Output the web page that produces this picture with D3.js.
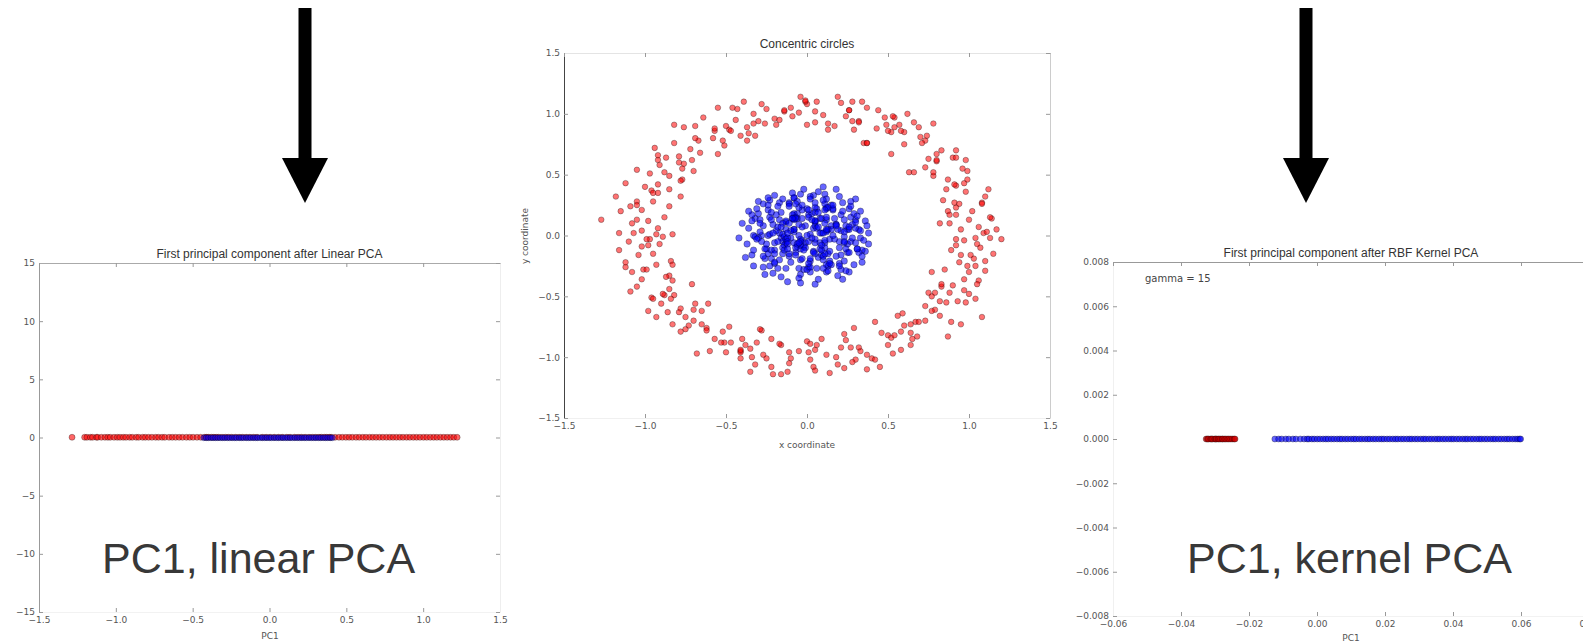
<!DOCTYPE html>
<html><head><meta charset="utf-8">
<script src="https://cdn.jsdelivr.net/npm/d3@7"></script>
<style>body{margin:0;background:#fff;overflow:hidden}svg{display:block}</style>
</head><body>
<svg id="chart" width="1583" height="643"></svg>
<script>
// ---------- DATA ----------
// Centre panel: "Concentric circles" (outer ring = red class, inner blob = blue class)
const circleRed = [
[1.05,-0.07],[0.88,0.10],[1.09,0.02],[0.97,-0.04],[1.14,0.14],[0.92,0.17],[1.00,0.13],[0.84,0.29],[1.06,0.07],
[1.08,0.27],[0.92,0.41],[0.87,0.20],[0.97,0.43],[1.10,0.32],[0.92,0.23],[0.99,0.46],[0.78,0.49],[0.91,0.27],
[0.99,0.53],[0.80,0.61],[0.91,0.42],[0.73,0.56],[0.92,0.70],[0.78,0.52],[0.83,0.70],[0.63,0.52],[0.90,0.64],
[0.70,0.81],[0.80,0.62],[0.60,0.85],
[0.69,0.89],[0.52,0.67],[0.73,0.78],[0.54,0.97],[0.71,0.76],[0.49,0.91],[0.52,0.85],[0.35,0.76],[0.57,0.91],
[0.53,0.98],[0.37,0.76],[0.32,0.94],[0.37,1.05],[0.50,0.86],[0.32,0.93],[0.34,1.10],[0.13,0.92],[0.26,1.03],
[0.29,0.87],[0.10,0.99],[0.21,1.09],[0.00,0.91],[0.19,1.14],[0.05,0.93],[0.06,1.10],[-0.14,1.02],[0.13,0.87],
[-0.10,1.05],[0.00,1.08],[-0.20,0.96],
[-0.01,1.10],[-0.19,0.91],[-0.09,0.98],[-0.39,1.10],[-0.26,0.92],[-0.14,1.03],[-0.41,0.82],[-0.30,0.94],[-0.43,1.04],
[-0.32,0.82],[-0.46,1.05],[-0.36,0.84],[-0.64,0.97],[-0.37,0.89],[-0.51,0.74],[-0.48,0.87],[-0.69,0.90],[-0.52,0.78],
[-0.76,0.89],[-0.55,0.67],[-0.67,0.78],[-0.57,0.86],[-0.79,0.65],[-0.69,0.80],[-0.92,0.62],[-0.70,0.53],[-0.66,0.68],
[-0.87,0.64],[-0.92,0.42],[-0.79,0.60],
[-0.96,0.37],[-0.77,0.55],[-0.91,0.58],[-0.85,0.38],[-1.05,0.54],[-0.78,0.32],[-0.95,0.35],[-0.85,0.49],[-1.05,0.28],
[-0.92,0.35],[-1.09,0.24],[-0.88,0.15],[-1.02,0.21],[-0.85,0.24],[-1.07,0.02],[-0.98,0.12],[-1.15,0.20],[-0.93,0.01],
[-0.89,-0.01],[-1.05,0.13],[-1.10,-0.05],[-0.97,-0.03],[-0.84,-0.21],[-1.02,-0.09],[-0.91,-0.07],[-1.12,-0.26],[-0.99,-0.03],
[-0.85,-0.33],[-1.04,-0.16],[-0.93,-0.24],
[-1.09,-0.46],[-0.87,-0.34],[-0.83,-0.24],[-0.96,-0.51],[-1.01,-0.28],[-0.88,-0.49],[-0.71,-0.40],[-0.89,-0.48],[-0.79,-0.63],
[-0.95,-0.52],[-0.82,-0.49],[-0.70,-0.61],[-0.84,-0.52],[-0.73,-0.74],[-0.86,-0.63],[-0.61,-0.56],[-0.75,-0.77],[-0.65,-0.62],
[-0.78,-0.79],[-0.51,-0.88],[-0.65,-0.73],[-0.48,-0.75],[-0.68,-0.97],[-0.52,-0.79],[-0.62,-0.76],[-0.41,-0.95],[-0.53,-0.88],
[-0.28,-0.78],[-0.50,-0.96],[-0.40,-0.85],
[-0.34,-1.00],[-0.22,-0.85],[-0.41,-0.96],[-0.22,-1.08],[-0.35,-0.93],[-0.16,-0.90],[-0.21,-1.14],[-0.11,-0.96],[-0.31,-0.88],
[0.04,-1.08],[-0.10,-1.01],[0.00,-0.87],[-0.11,-1.05],[0.05,-0.94],[-0.12,-1.12],[0.18,-1.00],[0.06,-0.90],[0.23,-1.09],
[0.09,-0.85],[0.19,-1.06],[0.02,-0.89],[0.33,-0.95],[0.37,-1.10],[0.21,-0.92],[0.24,-0.86],[0.37,-0.98],[0.50,-0.82],
[0.40,-1.01],[0.50,-0.90],[0.29,-0.76],
[0.64,-0.80],[0.42,-1.02],[0.52,-0.84],[0.42,-0.71],[0.64,-0.90],[0.68,-0.83],[0.59,-0.64],[0.54,-0.82],[0.67,-0.71],
[0.87,-0.83],[0.69,-0.71],[0.79,-0.61],[0.64,-0.73],[0.77,-0.50],[0.89,-0.71],[0.75,-0.47],[0.86,-0.55],[0.73,-0.70],
[0.97,-0.45],[0.83,-0.42],[0.93,-0.54],[0.77,-0.30],[1.04,-0.52],[0.90,-0.41],[1.03,-0.19],[0.83,-0.40],[0.99,-0.25],
[0.85,-0.28],[1.06,-0.37],[0.94,-0.22],[1.10,-0.21],[0.92,-0.08],[1.04,-0.25],[0.89,-0.12],[1.13,-0.02],[1.01,-0.16],
[1.11,0.03],[0.94,0.26],[0.88,0.17],[0.98,0.36],[1.08,0.26],[0.87,0.46],[0.92,0.64],[0.66,0.52],[0.74,0.82],
[0.80,0.67],[0.54,0.89],[0.58,0.86],[0.37,0.76],[0.48,0.97],[0.26,1.03],[0.28,0.94],[-0.01,1.11],[0.17,0.90],
[-0.05,1.01],[-0.04,1.14],[-0.33,0.92],[-0.25,1.04],[-0.50,0.90],[-0.37,0.78],[-0.57,0.88],[-0.47,0.86],[-0.76,0.59],
[-0.72,0.71],[-0.94,0.72],[-0.77,0.46],[-0.78,0.45],[-0.97,0.51],[-1.05,0.25],[-0.95,0.28],[-0.83,0.01],[-1.02,0.04],
[-0.92,0.06],[-1.12,-0.22],[-0.98,-0.08],[-0.83,-0.37],[-0.99,-0.28],[-0.85,-0.44],[-0.93,-0.67],[-0.69,-0.56],[-0.78,-0.60],
[-0.62,-0.78],[-0.75,-0.67],[-0.41,-0.94],[-0.47,-0.88],[-0.29,-0.77],[-0.41,-1.01],[-0.17,-0.89],[-0.25,-1.01],[0.05,-1.11],
[0.01,-0.96],[0.27,-0.92],[0.14,-1.13],[0.32,-0.92],[0.23,-0.81],[0.53,-0.97],[0.65,-0.85],[0.56,-0.66],[0.58,-0.79],
[0.77,-0.62],[0.95,-0.73],[0.82,-0.54],[0.97,-0.36],[0.79,-0.47],[0.95,-0.16],[1.10,-0.29],[0.92,-0.03],[1.04,-0.02],
[-1.27,0.13],[1.08,-0.67],[0.28,1.10],[-0.16,-1.14],[-0.82,0.91],[1.20,-0.03],[1.17,0.05],[1.15,-0.15],[-0.55,1.05],
[0.62,1.00],[0.78,0.92],[-0.92,0.66],[0.98,0.62],[1.12,0.38],[-1.16,-0.12],[-1.18,0.32],[-0.35,-1.12],[0.45,-1.08],
[0.98,-0.55],[1.05,-0.40],[-0.98,-0.62],[-1.05,-0.42],
[0.95,0.05],[1.02,0.20],[0.86,0.38],[0.75,0.63],[0.60,0.75],[0.43,0.88],[0.24,0.98],[0.05,1.02],[-0.17,0.95],
[-0.33,1.00],[-0.58,0.80],[-0.71,0.62],[-0.88,0.52],[-1.00,0.40],[-1.08,0.10],[-0.95,-0.15],[-1.02,-0.36],[-0.90,-0.56],
[-0.70,-0.70],[-0.57,-0.85],[-0.38,-0.90],[-0.27,-0.98],[-0.05,-0.95],[0.12,-0.98],[0.30,-1.02],[0.46,-0.80],[0.60,-0.74],
[0.73,-0.58],[0.88,-0.47],[1.00,-0.30],[1.07,-0.10],[0.82,0.10],[0.96,0.55],[0.66,0.93],[0.44,1.03],[-0.28,1.08],
[-0.44,0.95],[-0.82,0.76],[-1.12,0.43],[-1.16,0.02],[-1.08,-0.30],[-0.83,-0.73],[-0.60,-0.95],[-0.32,-1.06],[0.02,-1.02],
[0.28,-1.04],[0.58,-0.94],[0.82,-0.66],[1.00,-0.48],[1.13,0.15]
];
const circleBlue = [
[0.25,-0.07],[0.05,0.11],[0.36,-0.13],[0.11,-0.06],[0.34,-0.12],[0.20,-0.10],[0.31,-0.11],
[0.08,0.14],[0.27,-0.05],[0.18,0.09],[0.30,0.13],[0.12,0.04],[0.32,0.05],[0.15,0.08],
[0.28,0.09],[0.30,0.06],[0.27,0.15],[0.15,0.05],[0.21,0.17],[0.12,0.22],[0.09,0.14],
[0.14,-0.03],[0.12,0.23],[0.04,0.06],[0.23,-0.01],[0.02,0.01],[0.21,0.04],[0.20,-0.05],
[0.29,0.18],[0.05,0.08],[0.15,0.25],[0.01,0.17],[0.22,0.27],[0.06,0.22],[0.31,0.16],
[0.05,0.23],[0.16,0.21],[0.25,0.05],[0.26,0.22],[0.24,0.08],[0.23,0.13],[0.11,0.26],
[0.12,0.13],[0.26,0.05],[0.03,0.18],[0.09,0.02],[0.05,0.27],[0.06,0.06],[0.18,0.09],
[-0.08,0.31],[0.05,0.19],[0.11,0.34],[0.16,0.22],[-0.03,0.21],[0.13,0.23],[-0.06,0.18],
[0.11,0.10],[0.12,0.30],[-0.06,0.14],[-0.08,0.31],[0.07,0.07],[-0.11,0.27],[0.04,0.33],
[0.11,0.21],[-0.13,0.11],[0.10,0.29],[0.05,0.12],[0.16,0.25],[0.13,0.05],[0.12,0.15],
[-0.09,0.35],[-0.04,0.34],[-0.08,0.18],[-0.16,0.19],[-0.06,0.28],[-0.05,0.23],[-0.11,0.26],
[-0.17,0.13],[0.05,0.12],[-0.01,0.08],[0.02,0.32],[0.01,0.15],[0.02,0.30],[-0.03,0.07],
[-0.07,0.26],[-0.17,0.27],[-0.24,0.21],[-0.13,0.12],[-0.23,0.29],[-0.21,0.09],[-0.19,0.17],
[0.03,0.13],[-0.09,0.17],[0.00,0.22],[0.01,0.21],[-0.13,0.05],[-0.08,0.14],[-0.03,0.25],
[-0.17,0.02],[-0.24,0.00],[-0.16,-0.02],[-0.23,0.01],[-0.03,0.14],[-0.27,0.26],[-0.19,0.04],
[-0.09,0.14],[-0.07,0.15],[-0.08,0.13],[-0.15,0.10],[-0.24,0.25],[-0.08,0.05],[-0.11,0.24],
[-0.32,0.14],[-0.23,0.15],[-0.30,0.18],[-0.34,0.17],[-0.15,0.01],[-0.22,0.13],[-0.33,0.00],
[-0.20,-0.12],[-0.14,-0.01],[-0.15,-0.05],[-0.13,-0.06],[-0.29,0.13],[-0.06,-0.09],[-0.07,0.14],
[-0.08,0.03],[-0.34,0.12],[-0.32,-0.01],[-0.09,0.14],[-0.10,-0.02],[-0.28,0.00],[-0.21,0.02],
[-0.27,0.08],[-0.07,-0.14],[-0.11,0.10],[-0.25,-0.11],[-0.24,-0.15],[-0.18,0.07],[-0.11,-0.17],
[-0.15,-0.15],[-0.20,-0.06],[-0.22,-0.12],[-0.29,0.03],[-0.13,-0.03],[-0.34,-0.16],[-0.30,-0.02],
[-0.26,-0.11],[-0.08,0.05],[-0.03,-0.04],[-0.14,-0.08],[-0.31,-0.03],[-0.10,0.04],[-0.12,-0.02],
[-0.05,0.00],[-0.26,-0.19],[-0.23,-0.25],[0.01,-0.26],[-0.02,-0.28],[-0.04,-0.20],[-0.27,-0.17],
[-0.17,-0.20],[-0.08,-0.06],[-0.11,-0.15],[-0.15,-0.10],[-0.14,-0.12],[-0.18,-0.05],[-0.04,-0.03],
[-0.04,-0.11],[-0.22,-0.19],[-0.25,-0.07],[-0.02,-0.09],[-0.01,-0.06],[-0.20,-0.15],[-0.13,-0.27],
[-0.21,-0.31],[0.02,-0.30],[0.00,-0.28],[-0.20,-0.23],[-0.18,-0.27],[-0.04,-0.32],[0.07,-0.18],
[0.10,-0.20],[-0.07,-0.16],[0.08,-0.06],[-0.04,-0.08],[0.02,-0.21],[0.13,-0.15],[-0.12,-0.05],
[-0.01,-0.10],[0.14,-0.13],[-0.05,-0.27],[0.12,-0.30],[-0.12,-0.07],[-0.02,-0.12],[0.02,-0.26],
[0.13,-0.29],[-0.05,-0.35],[-0.07,-0.10],[-0.03,-0.19],[0.13,-0.25],[0.12,-0.24],[-0.12,-0.11],
[-0.04,-0.05],[0.09,-0.16],[0.10,-0.17],[0.11,-0.04],[0.04,-0.13],[-0.06,-0.07],[0.14,-0.21],
[0.15,-0.24],[-0.05,-0.06],[0.26,-0.30],[0.01,-0.23],[0.24,-0.29],[0.10,-0.27],[0.21,-0.28],
[0.01,-0.05],[0.20,-0.23],[0.11,-0.10],[0.23,-0.06],[0.05,-0.15],[0.25,-0.14],[0.08,-0.11],
[0.24,-0.11],[0.26,-0.14],[0.23,-0.05],[0.11,-0.15],[0.17,-0.03],[0.08,0.02],[0.05,-0.06],
[0.14,-0.23],[0.12,0.03],[0.04,-0.14],[0.23,-0.21],[0.02,-0.19],[0.21,-0.16],[0.20,-0.25],
[0.33,-0.02],[0.09,-0.12],[0.19,0.05],[0.05,-0.03],[0.26,0.07],[0.10,0.02],[0.35,-0.04],
[0.12,0.05],[0.23,0.03],[0.32,-0.14],[0.33,0.04],[0.31,-0.11],[0.30,-0.06],[0.18,0.08],
[-0.42,-0.02],[-0.40,0.10],[-0.38,-0.18],[0.38,0.02],[0.36,0.12],[0.30,0.30],[0.18,0.38],[0.10,0.40],[-0.20,0.33],
[-0.30,0.28],[0.05,-0.40],[-0.12,-0.38],[0.22,-0.36],[-0.33,-0.25],[0.34,-0.22],[-0.36,0.20],[0.27,0.24],[-0.26,-0.32],
[-0.36,0.06],[-0.37,-0.07],[-0.31,0.22],[-0.24,0.31],[-0.15,0.30],[-0.02,0.38],[0.07,0.36],[0.20,0.32],[0.27,0.28],
[0.33,0.20],[0.37,0.08],[0.38,-0.07],[0.34,-0.17],[0.29,-0.24],[0.19,-0.33],[0.07,-0.36],[-0.04,-0.39],[-0.16,-0.34],
[-0.27,-0.26],[-0.33,-0.12],[-0.28,-0.05],[-0.18,0.24],[0.22,0.20],[0.18,-0.17],[-0.12,0.02],[0.03,-0.02],[0.16,0.00],
[-0.05,0.09],[0.07,0.19],[-0.20,-0.22],[0.28,-0.02],[0.17,0.14],[-0.29,0.10],[-0.10,-0.22],[0.06,-0.27],[0.30,0.11],
[-0.16,0.07],[0.00,0.00],[0.09,-0.08],[-0.22,0.19]
];
// Left panel: PC1 after linear PCA (plotted on y = +0.02 / -0.02)
const linRed = [-1.285,-1.203,-1.188,-1.166,-1.151,-1.127,-1.118,-1.094,-1.071,-1.052,-1.036,-1.012,-0.991,-0.973,-0.952,
-0.934,-0.911,-0.893,-0.868,-0.851,-0.826,-0.808,-0.787,-0.765,-0.741,-0.722,-0.699,-0.681,-0.654,-0.633,-0.611,-0.588,
-0.566,-0.541,-0.519,-0.497,-0.472,-0.448,-0.421,-0.396,-0.362,-0.331,-0.287,-0.246,-0.198,-0.152,-0.104,-0.047,0.004,
0.058,0.112,0.163,0.208,0.257,0.301,0.338,0.372,0.401,0.427,0.452,0.474,0.497,0.518,0.539,0.563,0.584,0.607,0.628,0.651,
0.672,0.694,0.716,0.738,0.761,0.783,0.804,0.826,0.848,0.869,0.892,0.913,0.936,0.957,0.979,1.002,1.023,1.046,1.068,1.089,
1.112,1.134,1.156,1.178,1.199,1.221,
-0.409,-0.378,-0.347,-0.309,-0.268,-0.221,-0.176,-0.128,-0.081,-0.022,0.031,0.083,0.134,0.186,0.232,0.279,0.322,0.357,0.389];
const linBlue = [-0.428,-0.412,-0.398,-0.381,-0.367,-0.352,-0.336,-0.321,-0.305,-0.291,-0.274,-0.259,-0.243,-0.228,-0.214,
-0.197,-0.183,-0.168,-0.151,-0.137,-0.122,-0.106,-0.091,-0.077,-0.061,-0.046,-0.031,-0.016,-0.002,0.013,0.029,0.044,0.058,
0.074,0.089,0.103,0.119,0.134,0.149,0.165,0.18,0.196,0.211,0.226,0.241,0.257,0.272,0.288,0.302,0.318,0.333,0.349,0.364,
0.379,0.395,0.409];
const linYRed = 0.02, linYBlue = -0.02;
// Right panel: PC1 after RBF kernel PCA (gamma = 15), plotted on y = 0
const kpcaRed = [-0.0326,-0.0322,-0.0319,-0.0313,-0.0310,-0.0307,-0.0301,-0.0298,-0.0296,-0.0291,-0.0288,-0.0284,
-0.0279,-0.0277,-0.0272,-0.0268,-0.0263,-0.0259,-0.0254,-0.0249,-0.0244,-0.0241];
const kpcaBlue = [-0.0124,-0.0113,-0.0104,-0.0092,-0.0083,-0.0071,-0.0062,-0.0049,-0.0038,-0.0029,
-0.0024,-0.0015,-0.0008,0.0001,0.0009,0.0018,0.0026,0.0033,0.0042,0.0050,0.0059,0.0067,0.0074,0.0083,0.0091,0.0100,
0.0108,0.0115,0.0124,0.0132,0.0141,0.0149,0.0156,0.0165,0.0173,0.0182,0.0190,0.0197,0.0206,0.0214,0.0223,0.0231,
0.0238,0.0247,0.0255,0.0264,0.0272,0.0279,0.0288,0.0296,0.0305,0.0313,0.0320,0.0329,0.0337,0.0346,0.0354,0.0361,
0.0370,0.0378,0.0387,0.0395,0.0402,0.0411,0.0419,0.0428,0.0436,0.0443,0.0452,0.0460,0.0469,0.0477,0.0484,0.0493,
0.0501,0.0510,0.0518,0.0525,0.0534,0.0542,0.0551,0.0559,0.0566,0.0575,0.0583,0.0590,0.0596,0.0599];
const kpcaY = 0;
// Ticks
const linXTicks = [-1.5,-1.0,-0.5,0.0,0.5,1.0,1.5];
const linYTicks = [-15,-10,-5,0,5,10,15];
const circXTicks = [-1.5,-1.0,-0.5,0.0,0.5,1.0,1.5];
const circYTicks = [-1.5,-1.0,-0.5,0.0,0.5,1.0,1.5];
const kXTicks = [-0.06,-0.04,-0.02,0.00,0.02,0.04,0.06,0.08];
const kYTicks = [-0.008,-0.006,-0.004,-0.002,0.000,0.002,0.004,0.006,0.008];
// Texts
const titleLinear = "First principal component after Linear PCA";
const titleCircles = "Concentric circles";
const titleKernel = "First principal component after RBF Kernel PCA";
const gammaText = "gamma = 15";
const bigLinear = "PC1, linear PCA";
const bigKernel = "PC1, kernel PCA";

// ---------- DRAW ----------
const svg = d3.select("#chart");
const TICKFONT = "'DejaVu Sans', sans-serif";

function panel(o) {
  const g = svg.append("g");
  const x = d3.scaleLinear().domain(o.xDomain).range([o.left, o.right]);
  const y = d3.scaleLinear().domain(o.yDomain).range([o.bottom, o.top]);
  const styleAxis = (sel, col) => {
    sel.select(".domain").attr("stroke", col).attr("stroke-width", 1);
    sel.selectAll(".tick line").attr("stroke", "#999");
    sel.selectAll(".tick text").attr("fill", "#555").style("font-family", TICKFONT).style("font-size", "9px");
  };
  g.append("g").attr("transform", `translate(0,${o.bottom})`)
    .call(d3.axisBottom(x).tickValues(o.xTicks).tickFormat(d3.format(o.xFmt)).tickSizeInner(-4).tickSizeOuter(0).tickPadding(5))
    .call(s => styleAxis(s, o.cBottom));
  g.append("g").attr("transform", `translate(${o.left},0)`)
    .call(d3.axisLeft(y).tickValues(o.yTicks).tickFormat(d3.format(o.yFmt)).tickSizeInner(-4).tickSizeOuter(0).tickPadding(4))
    .call(s => styleAxis(s, o.cLeft));
  g.append("g").attr("transform", `translate(0,${o.top})`)
    .call(d3.axisTop(x).tickValues(o.xTicks).tickFormat("").tickSizeInner(-4).tickSizeOuter(0))
    .call(s => styleAxis(s, o.cTop));
  g.append("g").attr("transform", `translate(${o.right},0)`)
    .call(d3.axisRight(y).tickValues(o.yTicks).tickFormat("").tickSizeInner(-4).tickSizeOuter(0))
    .call(s => styleAxis(s, o.cRight));
  g.append("text").attr("x", (o.left + o.right) / 2).attr("y", o.top - 5)
    .attr("text-anchor", "middle").attr("fill", "#333")
    .style("font-family", "'Liberation Sans', Arial, sans-serif").style("font-size", "12px").text(o.title);
  return { g, x, y };
}

function dots(g, data, cx, cy, color, r, fo) {
  g.append("g").selectAll("circle").data(data).join("circle")
    .attr("cx", cx).attr("cy", cy).attr("r", r)
    .attr("fill", color).attr("fill-opacity", fo)
    .attr("stroke", "#000").attr("stroke-opacity", 0.5).attr("stroke-width", 0.6);
}

// Left panel
const L = panel({ xDomain: [-1.5, 1.5], yDomain: [-15, 15], left: 39, right: 500, top: 263, bottom: 612,
  xTicks: linXTicks, yTicks: linYTicks, xFmt: ".1f", yFmt: "d", title: titleLinear,
  cLeft: "#999", cTop: "#aaa", cRight: "#eee", cBottom: "#f2f2f2" });
dots(L.g, linRed, d => L.x(d), () => L.y(linYRed), "red", 3, 0.6);
dots(L.g, linBlue, d => L.x(d), () => L.y(linYBlue), "blue", 3, 0.5);
L.g.append("text").attr("x", 270).attr("y", 639).attr("text-anchor", "middle").attr("fill", "#555")
  .style("font-family", TICKFONT).style("font-size", "9px").text("PC1");

// Centre panel
const C = panel({ xDomain: [-1.5, 1.5], yDomain: [-1.5, 1.5], left: 564, right: 1050, top: 53, bottom: 418,
  xTicks: circXTicks, yTicks: circYTicks, xFmt: ".1f", yFmt: ".1f", title: titleCircles,
  cLeft: "#444", cTop: "#e4e4e4", cRight: "#ccc", cBottom: "#f0f0f0" });
dots(C.g, circleRed, d => C.x(d[0]), d => C.y(d[1]), "red", 2.8, 0.55);
dots(C.g, circleBlue, d => C.x(d[0]), d => C.y(d[1]), "blue", 3.2, 0.6);
C.g.append("text").attr("x", 807).attr("y", 448).attr("text-anchor", "middle").attr("fill", "#555")
  .style("font-family", TICKFONT).style("font-size", "9px").text("x coordinate");
C.g.append("text").attr("transform", "translate(528,236) rotate(-90)").attr("text-anchor", "middle").attr("fill", "#555")
  .style("font-family", TICKFONT).style("font-size", "9px").text("y coordinate");

// Right panel
const R = panel({ xDomain: [-0.06, 0.08], yDomain: [-0.008, 0.008], left: 1113, right: 1589, top: 262, bottom: 616,
  xTicks: kXTicks, yTicks: kYTicks, xFmt: ".2f", yFmt: ".3f", title: titleKernel,
  cLeft: "#f0f0f0", cTop: "#999", cRight: "#eee", cBottom: "#f2f2f2" });
dots(R.g, kpcaRed, d => R.x(d), () => R.y(kpcaY), "#d00000", 3, 0.75);
dots(R.g, kpcaBlue, d => R.x(d), () => R.y(kpcaY), "blue", 3, 0.6);
R.g.append("text").attr("x", 1145).attr("y", 282).attr("fill", "#444")
  .style("font-family", TICKFONT).style("font-size", "10px").text(gammaText);
R.g.append("text").attr("x", 1351).attr("y", 641).attr("text-anchor", "middle").attr("fill", "#555")
  .style("font-family", TICKFONT).style("font-size", "9px").text("PC1");

// Big captions
const BIG = "'Liberation Sans', Arial, Helvetica, sans-serif";
svg.append("text").attr("x", 102).attr("y", 573).attr("fill", "#383838")
  .style("font-family", BIG).style("font-size", "43px").text(bigLinear);
svg.append("text").attr("x", 1187).attr("y", 573).attr("fill", "#383838")
  .style("font-family", BIG).style("font-size", "43px").text(bigKernel);

// Arrows
function arrow(cx) {
  const a = svg.append("g").attr("fill", "#000");
  a.append("rect").attr("x", cx - 6.5).attr("y", 8).attr("width", 13).attr("height", 152);
  a.append("path").attr("d", d3.line()([[cx - 23, 158], [cx + 23, 158], [cx, 203]]) + "Z");
}
arrow(305);
arrow(1306);
</script>
</body></html>
